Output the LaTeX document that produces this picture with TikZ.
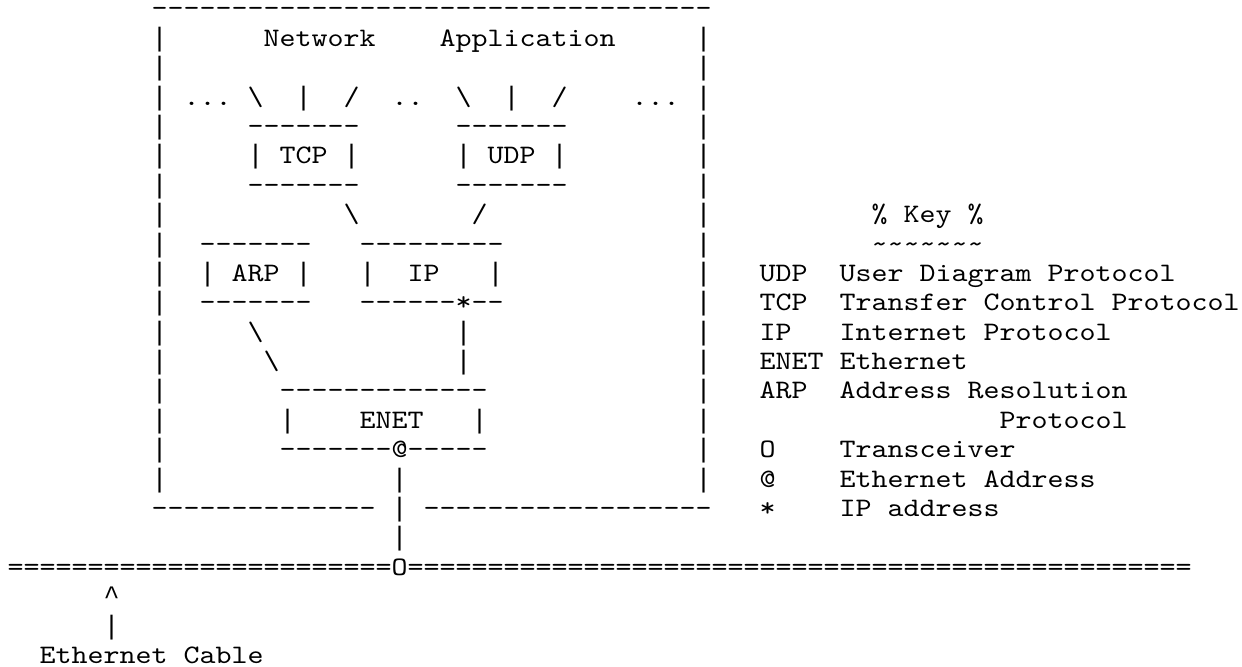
\documentclass[tikz,border=0pt]{standalone}
\usepackage{fontspec}
\setmonofont{lmmono10-regular.otf}[FakeStretch=1.1428571]
\newfontfamily\barfont{Liberation Mono}
\usepackage{tikz}
\usetikzlibrary{positioning}
\newcommand{\bs}{\textbackslash}
\newcommand{\vb}{{\barfont|}}

\tikzset{ch/.style={anchor=base west, inner sep=0pt, font=\ttfamily}}

\begin{document}
\begin{tikzpicture}[x=6pt, y=-11.02pt]
      \useasboundingbox (-0.4375,-0.577) rectangle (77.1875,22.12);

      % application box
      \node[ch] (appTop) at (9,0) {-----------------------------------};
      \foreach \r in {1,...,16} {
        \node[ch] (wallL\r) at (9,\r) {\vb};
        \node[ch] (wallR\r) at (43,\r) {\vb};
      }
      \node[ch] (net) at (16,1) {Network};
      \node[ch] (app) at (27,1) {Application};

      \node[ch] (dotsA) at (11,3) {...};
      \node[ch] (tcpL) at (15,3) {\bs};
      \node[ch] (tcpM) at (18,3) {\vb};
      \node[ch] (tcpR) at (21,3) {/};
      \node[ch] (dotsB) at (24,3) {..};
      \node[ch] (udpL) at (28,3) {\bs};
      \node[ch] (udpM) at (31,3) {\vb};
      \node[ch] (udpR) at (34,3) {/};
      \node[ch] (dotsC) at (39,3) {...};

      \node[ch] (TCP1) at (15,4) {-------};
      \node[ch] (TCP) at (15,5) {\vb{} TCP \vb};
      \node[ch] (TCP2) at (15,6) {-------};
      \node[ch] (UDP1) at (28,4) {-------};
      \node[ch] (UDP) at (28,5) {\vb{} UDP \vb};
      \node[ch] (UDP2) at (28,6) {-------};

      \node[ch] (tcpIP) at (21,7) {\bs};
      \node[ch] (udpIP) at (29,7) {/};

      \node[ch] (ARP1) at (12,8) {-------};
      \node[ch] (ARP) at (12,9) {\vb{} ARP \vb};
      \node[ch] (ARP2) at (12,10) {-------};
      \node[ch] (IP1) at (22,8) {---------};
      \node[ch] (IPl) at (22,9) {\vb};
      \node[ch] (IP) at (25,9) {IP};
      \node[ch] (IPr) at (30,9) {\vb};
      \node[ch] (IP2) at (22,10) {------*--};

      \node[ch] (arpENa) at (15,11) {\bs};
      \node[ch] (arpENb) at (16,12) {\bs};
      \node[ch] (ipENa) at (28,11) {\vb};
      \node[ch] (ipENb) at (28,12) {\vb};

      \node[ch] (ENET1) at (17,13) {-------------};
      \node[ch] (ENETl) at (17,14) {\vb};
      \node[ch] (ENET) at (22,14) {ENET};
      \node[ch] (ENETr) at (29,14) {\vb};
      \node[ch] (ENET2) at (17,15) {-------@-----};

      \node[ch] (dropA) at (24,16) {\vb};
      \node[ch] (appBotL) at (9,17) {--------------};
      \node[ch] (dropB) at (24,17) {\vb};
      \node[ch] (appBotR) at (26,17) {------------------};
      \node[ch] (dropC) at (24,18) {\vb};

      % cable
      \node[ch] (cable) at (0,19) {========================O=================================================};
      \node[ch] (cableTip) at (6,20) {{\barfont\textasciicircum}};
      \node[ch] (cableStem) at (6,21) {\vb};
      \node[ch] (cableLbl) at (2,22) {Ethernet Cable};

      % key
      \node[ch] (key) at (54,7) {\% Key \%};
      \node[ch] (keyLine) at (54,8) {\textasciitilde\textasciitilde\textasciitilde\textasciitilde\textasciitilde\textasciitilde\textasciitilde};
      \node[ch] (kUDP) at (47,9) {UDP};
      \node[ch] (kUDPt) at (52,9) {User Diagram Protocol};
      \node[ch] (kTCP) at (47,10) {TCP};
      \node[ch] (kTCPt) at (52,10) {Transfer Control Protocol};
      \node[ch] (kIP) at (47,11) {IP};
      \node[ch] (kIPt) at (52,11) {Internet Protocol};
      \node[ch] (kENET) at (47,12) {ENET Ethernet};
      \node[ch] (kARP) at (47,13) {ARP};
      \node[ch] (kARPt) at (52,13) {Address Resolution};
      \node[ch] (kARPu) at (62,14) {Protocol};
      \node[ch] (kO) at (47,15) {O};
      \node[ch] (kOt) at (52,15) {Transceiver};
      \node[ch] (kAt) at (47,16) {@};
      \node[ch] (kAtt) at (52,16) {Ethernet Address};
      \node[ch] (kStar) at (47,17) {*};
      \node[ch] (kStart) at (52,17) {IP address};
    \end{tikzpicture}
\end{document}
